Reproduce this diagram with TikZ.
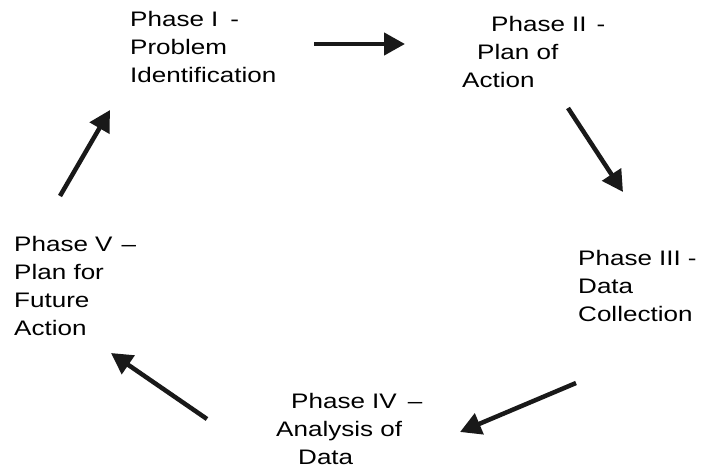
\documentclass[tikz,border=0pt]{standalone}
\usepackage{fontspec}
\setmainfont{Liberation Sans}[FakeStretch=1.24]
\usetikzlibrary{arrows.meta}
\begin{document}
\begin{tikzpicture}[x=1pt, y=-1pt,
  every node/.style={anchor=base west, align=left, inner sep=0pt, font=\fontsize{21}{27.7}\selectfont},
  arrow/.style={-{Triangle[length=21pt, width=22pt]}, line width=4.5pt, draw=black!90}
]
\useasboundingbox (0,0) rectangle (702,469);
% nodes sit on the baseline of their last line
\node (problem) at (130,82) {Phase I\hspace{12pt}-\\Problem\\Identification};
\node (plan) at (462,87) {\hspace{29pt}Phase II\hspace{10pt}-\\\hspace{15pt}Plan of\\Action};
\node (collect) at (578,321) {Phase III\hspace{7pt}-\\Data\\Collection};
\node (analysis) at (276,464) {\hspace{15pt}Phase IV\hspace{11pt}--\\Analysis of\\\hspace{22pt}Data};
\node (future) at (14,335) {Phase V\hspace{9pt}--\\Plan for\\Future\\Action};
\coordinate (a1) at (314,44);  \coordinate (b1) at (405,44);
\coordinate (a2) at (568,108); \coordinate (b2) at (623,192);
\coordinate (a3) at (576,383); \coordinate (b3) at (460,432);
\coordinate (a4) at (207,419); \coordinate (b4) at (111,353);
\coordinate (a5) at (60,196);  \coordinate (b5) at (110,110);
\draw[arrow] (a1) -- (b1);
\draw[arrow] (a2) -- (b2);
\draw[arrow] (a3) -- (b3);
\draw[arrow] (a4) -- (b4);
\draw[arrow] (a5) -- (b5);
\end{tikzpicture}
\end{document}
